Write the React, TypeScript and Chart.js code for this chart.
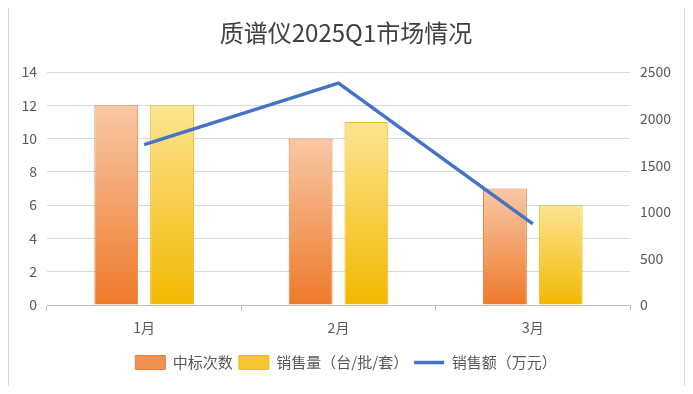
import React, { useEffect, useRef } from "react";
import { Chart, registerables } from "chart.js";

Chart.register(...registerables);

const categories = ["1月", "2月", "3月"];
const bidCounts = [12, 10, 7];
const salesVolume = [12, 11, 6];
const salesAmount = [1720, 2380, 870];
const leftTicks = [0, 2, 4, 6, 8, 10, 12, 14];
const rightTicks = [0, 500, 1000, 1500, 2000, 2500];

const FONT = "'Noto Sans CJK SC', 'Noto Sans', sans-serif";
const TEXT = "#595959";

function barGradient(ctx: any, top: string, bottom: string, fallback: string) {
  const chart = ctx.chart;
  if (!chart.chartArea || ctx.type !== "data") return fallback;
  const y = chart.scales.y;
  const v = ctx.raw as number;
  const yTop = y.getPixelForValue(v);
  const yBot = y.getPixelForValue(0);
  if (!isFinite(yTop) || !isFinite(yBot) || yTop === yBot) return fallback;
  const g = chart.ctx.createLinearGradient(0, yTop, 0, yBot);
  g.addColorStop(0, top);
  g.addColorStop(1, bottom);
  return g;
}

const borderPlugin = {
  id: "outerBorder",
  beforeDraw(chart: any) {
    const c = chart.ctx;
    c.save();
    c.fillStyle = "#ffffff";
    c.fillRect(0, 0, chart.width, chart.height);
    c.strokeStyle = "#d9d9d9";
    c.lineWidth = 1;
    c.strokeRect(8.5, 5.5, 676, 382);
    c.restore();
  },
};

export default function App() {
  const ref = useRef<HTMLCanvasElement | null>(null);

  useEffect(() => {
    if (!ref.current) return;
    const chart = new Chart(ref.current, {
      type: "bar",
      data: {
        labels: categories,
        datasets: [
          {
            type: "bar",
            label: "中标次数",
            data: bidCounts,
            yAxisID: "y",
            backgroundColor: (ctx: any) => barGradient(ctx, "#f8c8a6", "#ee7a2a", "#f1955a"),
            borderColor: "#e2813f",
            borderWidth: 1,
            barPercentage: 0.786,
            categoryPercentage: 0.574,
            order: 2,
          },
          {
            type: "bar",
            label: "销售量（台/批/套）",
            data: salesVolume,
            yAxisID: "y",
            backgroundColor: (ctx: any) => barGradient(ctx, "#fde492", "#f2b800", "#f6cb3a"),
            borderColor: "#e9bc20",
            borderWidth: 1,
            barPercentage: 0.786,
            categoryPercentage: 0.574,
            order: 2,
          },
          {
            type: "line",
            label: "销售额（万元）",
            data: salesAmount,
            yAxisID: "y1",
            borderColor: "#4472c4",
            backgroundColor: "#4472c4",
            borderWidth: 3.5,
            pointRadius: 0,
            tension: 0,
            order: 1,
          } as any,
        ],
      },
      options: {
        responsive: false,
        animation: false,
        layout: { padding: { left: 8, right: 9, top: 0, bottom: 14 } },
        plugins: {
          title: {
            display: true,
            text: "质谱仪2025Q1市场情况",
            color: "#404040",
            font: { family: FONT, size: 24, weight: "normal" },
            padding: { top: 18, bottom: 25.2 },
          },
          legend: {
            position: "bottom",
            labels: {
              color: TEXT,
              font: { family: FONT, size: 15 },
              usePointStyle: true,
              pointStyleWidth: 30,
              boxHeight: 14,
              padding: 6,
              sort: (a: any, b: any) => a.datasetIndex - b.datasetIndex,
              generateLabels(chart: any) {
                const items = Chart.defaults.plugins.legend.labels.generateLabels(chart);
                const fills = ["#f0924f", "#f5c630", "#4472c4"];
                const strokes = ["#e2813f", "#e9bc20", "#4472c4"];
                items.forEach((it: any) => {
                  const i = it.datasetIndex;
                  it.fillStyle = fills[i];
                  it.strokeStyle = strokes[i];
                  it.pointStyle = i === 2 ? "line" : "rect";
                  it.lineWidth = i === 2 ? 3.5 : 1;
                });
                return items;
              },
            },
          },
          tooltip: { enabled: false },
        },
        scales: {
          x: {
            grid: {
              offset: true,
              drawOnChartArea: false,
              drawTicks: true,
              tickLength: 6,
              color: "#bfbfbf",
            },
            border: { display: true, color: "#bfbfbf" },
            ticks: { color: TEXT, font: { family: FONT, size: 14 }, padding: 8 },
            afterFit(scale: any) {
              scale.height = 44;
            },
          },
          y: {
            position: "left",
            min: 0,
            max: 14,
            afterBuildTicks(scale: any) {
              scale.ticks = leftTicks.map((v) => ({ value: v }));
            },
            grid: { color: "#d9d9d9", drawTicks: false },
            border: { display: false },
            ticks: { color: TEXT, font: { family: FONT, size: 14 }, padding: 10 },
            afterFit(scale: any) {
              scale.width = 39;
            },
          },
          y1: {
            position: "right",
            min: 0,
            max: 2500,
            afterBuildTicks(scale: any) {
              scale.ticks = rightTicks.map((v) => ({ value: v }));
            },
            grid: { display: false, drawTicks: false },
            border: { display: false },
            ticks: {
              color: TEXT,
              font: { family: FONT, size: 14 },
              padding: 10,
              callback: (v: any) => String(v),
            },
            afterFit(scale: any) {
              scale.width = 54;
            },
          },
        },
      },
      plugins: [borderPlugin],
    } as any);
    return () => chart.destroy();
  }, []);

  return (
    <div style={{ margin: -8, width: 693, height: 394 }}>
      <canvas ref={ref} width={693} height={394} style={{ display: "block" }} />
    </div>
  );
}
